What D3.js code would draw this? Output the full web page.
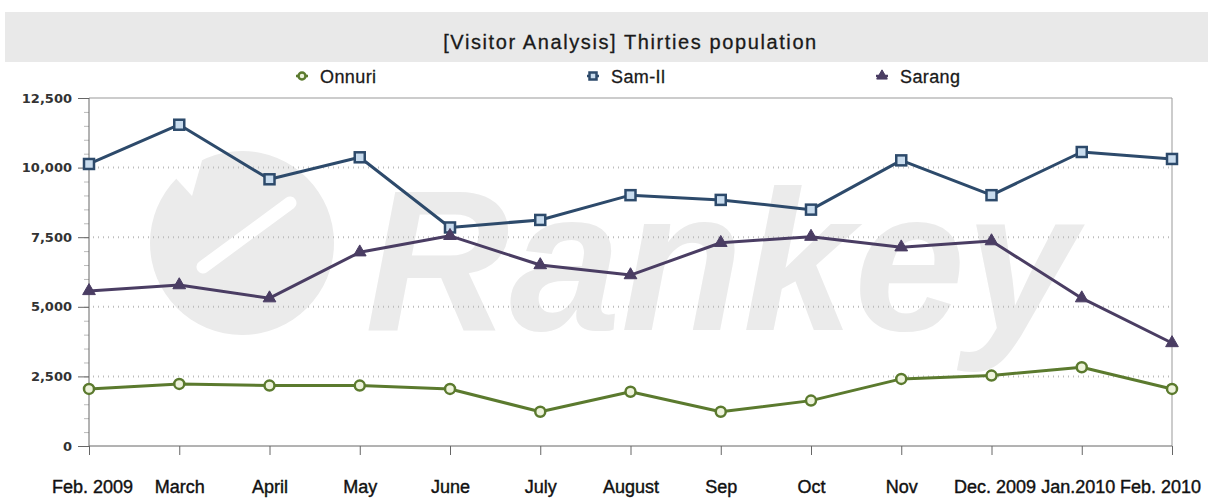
<!DOCTYPE html>
<html lang="en">
<head>
<meta charset="utf-8">
<title>Thirties population</title>
<script src="https://d3js.org/d3.v7.min.js"></script>
<style>
  body { margin: 0; background: #fff; }
  svg { display: block; }
  .title { font-family: "Liberation Sans", Arial, sans-serif; font-size: 20px; letter-spacing: 1.6px; fill: #1a1a1a; stroke: #1a1a1a; stroke-width: 0.3px; }
  .legend text { font-family: "Liberation Sans", Arial, sans-serif; font-size: 18px; letter-spacing: 0.4px; fill: #1a1a1a; stroke: #1a1a1a; stroke-width: 0.3px; }
  .yaxis text { font-family: "DejaVu Sans", Verdana, sans-serif; font-size: 13px; font-weight: bold; fill: #333; }
  .xaxis text { font-family: "Liberation Sans", Arial, sans-serif; font-size: 18px; letter-spacing: 0; fill: #111; stroke: #111; stroke-width: 0.4px; }
</style>
</head>
<body>
<svg id="chart" width="1208" height="502"></svg>
<script>
// chart values
var months = ["Feb. 2009", "March", "April", "May", "June", "July", "August", "Sep", "Oct", "Nov", "Dec. 2009", "Jan.2010", "Feb. 2010"];
var onnuri = [2050, 2230, 2170, 2170, 2050, 1230, 1950, 1230, 1630, 2410, 2530, 2830, 2050];
var samil  = [10130, 11540, 9580, 10370, 7850, 8120, 9010, 8840, 8490, 10260, 9010, 10560, 10310];
var sarang = [5570, 5780, 5310, 6960, 7550, 6500, 6140, 7300, 7520, 7140, 7360, 5310, 3700];
var yTicks = [0, 2500, 5000, 7500, 10000, 12500];
var seriesNames = ["Onnuri", "Sam-Il", "Sarang"];

var plotLeft = 89, plotRight = 1172, plotTop = 98, plotBottom = 446;
var svg = d3.select("#chart");

var x = d3.scalePoint().domain(months).range([plotLeft, plotRight]);
var y = d3.scaleLinear().domain([0, 12500]).range([plotBottom, plotTop]);

/** title bar */
svg.append("rect").attr("x", 5).attr("y", 12).attr("width", 1203).attr("height", 50).attr("fill", "#e9e9e9");
svg.append("text").attr("class", "title")
  .attr("x", (plotLeft + plotRight) / 2).attr("y", 49)
  .attr("text-anchor", "middle")
  .text("[Visitor Analysis] Thirties population");

/** watermark */
var wm = svg.append("g").attr("class", "watermark");
wm.append("circle").attr("cx", 242).attr("cy", 243).attr("r", 92).attr("fill", "#ebebeb");
wm.append("path").attr("d", "M150,150 L205,150 L192,196 Z").attr("fill", "#fff");
wm.append("line").attr("x1", 203).attr("y1", 267).attr("x2", 290).attr("y2", 203)
  .attr("stroke", "#fff").attr("stroke-width", 13).attr("stroke-linecap", "round");
wm.append("text").attr("x", 365).attr("y", 330)
  .attr("font-family", "Liberation Sans, Arial, sans-serif")
  .attr("font-size", 200).attr("font-weight", "bold").attr("font-style", "italic")
  .attr("fill", "#ebebeb").text("Rankey");

/** grid lines */
svg.append("g").selectAll("line")
  .data(yTicks.filter(function(d){ return d > 0 && d < 12500; }))
  .enter().append("line")
  .attr("x1", plotLeft + 4).attr("x2", plotRight)
  .attr("y1", function(d){ return y(d); }).attr("y2", function(d){ return y(d); })
  .attr("stroke", "#bdbdbd").attr("stroke-width", 2).attr("stroke-dasharray", "1,4");

/** frame */
svg.append("line").attr("x1", plotLeft).attr("x2", plotRight).attr("y1", plotTop).attr("y2", plotTop).attr("stroke", "#999");
svg.append("line").attr("x1", plotRight).attr("x2", plotRight).attr("y1", plotTop).attr("y2", plotBottom).attr("stroke", "#999");

/** axes */
var minor = svg.append("g").attr("transform", "translate(" + plotLeft + ",0)")
  .call(d3.axisLeft(y).tickValues(d3.range(0, 12501, 500)).tickSize(5).tickFormat(""));
minor.select(".domain").remove();
minor.selectAll("line").attr("stroke", "#bbb");

var yAxis = svg.append("g").attr("class", "yaxis").attr("transform", "translate(" + plotLeft + ",0)")
  .call(d3.axisLeft(y).tickValues(yTicks).tickSize(11).tickPadding(6).tickFormat(d3.format(",")));
yAxis.select(".domain").attr("stroke", "#666").attr("d", "M0," + plotTop + "V" + plotBottom);
yAxis.selectAll("line").attr("stroke", "#666");

var xAxis = svg.append("g").attr("class", "xaxis").attr("transform", "translate(0," + plotBottom + ")")
  .call(d3.axisBottom(x).tickSize(9).tickPadding(25));
xAxis.select(".domain").attr("stroke", "#666").attr("d", "M" + plotLeft + ",0H" + plotRight);
xAxis.selectAll("line").attr("stroke", "#666");
// nudge the crowded end labels like the original
var labelShift = { 0: 3, 10: 3, 11: -4, 12: -12 };
xAxis.selectAll(".tick text")
  .attr("dx", function(d, i){ return labelShift[i] || 0; });

/** series */
var series = [
  { name: seriesNames[0], values: onnuri, color: "#5b7a2e", fill: "#eef3dc", shape: "circle" },
  { name: seriesNames[1], values: samil,  color: "#2d4a6b", fill: "#c9dcee", shape: "square" },
  { name: seriesNames[2], values: sarang, color: "#4a3d63", fill: "#4a3d63", shape: "triangle" }
];

var line = d3.line()
  .x(function(d, i){ return x(months[i]); })
  .y(function(d){ return y(d); });

function marker(g, s, size) {
  if (s.shape === "circle") {
    g.append("circle").attr("r", size * 0.5).attr("fill", s.fill).attr("stroke", s.color).attr("stroke-width", 2.5);
  } else if (s.shape === "square") {
    g.append("rect").attr("x", -size / 2).attr("y", -size / 2).attr("width", size).attr("height", size)
      .attr("fill", s.fill).attr("stroke", s.color).attr("stroke-width", 2.5);
  } else {
    g.append("path").attr("d", d3.symbol().type(d3.symbolTriangle).size(size * 7)())
      .attr("fill", s.fill).attr("stroke", s.color).attr("stroke-width", 1);
  }
}

series.forEach(function(s){
  svg.append("path").datum(s.values)
    .attr("d", line).attr("fill", "none")
    .attr("stroke", s.color).attr("stroke-width", 3).attr("stroke-linejoin", "round");
  svg.append("g").selectAll("g")
    .data(s.values).enter().append("g")
    .attr("transform", function(d, i){ return "translate(" + x(months[i]) + "," + y(d) + ")"; })
    .each(function(){ marker(d3.select(this), s, 10); });
});

/** legend */
var legendX = [302, 593, 882];
var legend = svg.append("g").attr("class", "legend");
series.forEach(function(s, i){
  var g = legend.append("g").attr("transform", "translate(" + legendX[i] + ",76)");
  g.append("line").attr("x1", -6).attr("x2", 6).attr("stroke", s.color).attr("stroke-width", 2.5);
  marker(g, s, 7);
  g.append("text").attr("x", 18).attr("y", 7).text(s.name);
});
</script>
</body>
</html>
